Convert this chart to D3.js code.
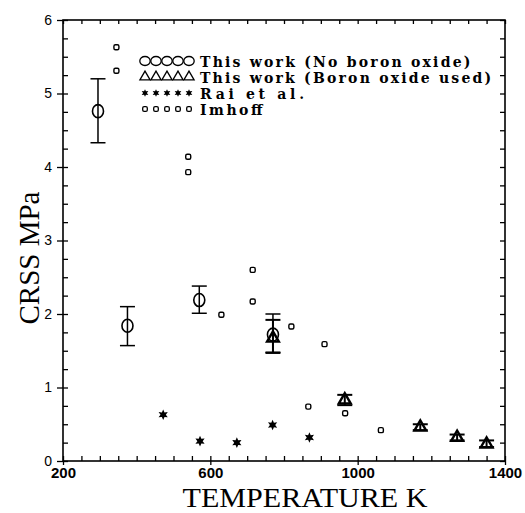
<!DOCTYPE html>
<html>
<head>
<meta charset="utf-8">
<script src="https://cdn.jsdelivr.net/npm/d3@7"></script>
<style>
  html, body { margin: 0; padding: 0; background: #fff; }
  svg { display: block; }
</style>
</head>
<body>
<svg id="chart" width="525" height="513"></svg>
<script>
// CRSS vs temperature: this work (two conditions), Rai et al., Imhoff

const noBoronT  = [295, 375, 570, 770];
const noBoronV  = [4.76, 1.84, 2.19, 1.72];
const noBoronLo = [4.33, 1.57, 2.01, 1.48];
const noBoronHi = [5.20, 2.10, 2.38, 2.00];

const boronT  = [770, 965, 1170, 1270, 1350];
const boronV  = [1.67, 0.83, 0.46, 0.32, 0.23];
const boronLo = [1.47, 0.76, 0.42, 0.28, 0.19];
const boronHi = [1.92, 0.90, 0.50, 0.36, 0.28];

const raiT = [472, 572, 672, 769, 869];
const raiV = [0.63, 0.27, 0.25, 0.49, 0.32];

const imhoffT = [345, 345, 540, 540, 630, 715, 715, 820, 910, 866, 966, 1063];
const imhoffV = [5.63, 5.31, 4.14, 3.93, 1.99, 2.60, 2.17, 1.83, 1.59, 0.74, 0.65, 0.42];

const xMajorTicks = [200, 600, 1000, 1400];
const yMajorTicks = [0, 1, 2, 3, 4, 5, 6];

const legendLabels = [
  "This work (No boron oxide)",
  "This work (Boron oxide used)",
  "Rai et al.",
  "Imhoff"
];

const svg = d3.select("#chart");
const x = d3.scaleLinear().domain([200, 1400]).range([63, 505]);
const y = d3.scaleLinear().domain([0, 6]).range([461, 20]);

// six-pointed filled star
const star6 = {
  draw(ctx, size) {
    const R = Math.sqrt(size) * 0.75, r = R * 0.5;
    for (let i = 0; i < 12; i++) {
      const a = -Math.PI / 2 + i * Math.PI / 6;
      const rr = i % 2 === 0 ? R : r;
      const px = rr * Math.cos(a), py = rr * Math.sin(a);
      if (i === 0) ctx.moveTo(px, py); else ctx.lineTo(px, py);
    }
    ctx.closePath();
  }
};

// frame
svg.append("rect")
  .attr("x", x(200)).attr("y", y(6))
  .attr("width", x(1400) - x(200)).attr("height", y(0) - y(6))
  .attr("fill", "none").attr("stroke", "#000").attr("stroke-width", 1.6);

function styleAxis(g) {
  g.select(".domain").remove();
  g.selectAll(".tick line").attr("stroke", "#000").attr("stroke-width", 1.3);
}

// minor ticks, pointing inward
svg.append("g").attr("transform", `translate(0,${y(0)})`)
  .call(d3.axisBottom(x).tickValues(d3.range(200, 1401, 50)).tickSize(-5).tickFormat(""))
  .call(styleAxis);
svg.append("g").attr("transform", `translate(0,${y(6)})`)
  .call(d3.axisTop(x).tickValues(d3.range(200, 1401, 50)).tickSize(-4).tickFormat(""))
  .call(styleAxis);
svg.append("g").attr("transform", `translate(${x(200)},0)`)
  .call(d3.axisLeft(y).tickValues(d3.range(0, 6.001, 0.25)).tickSize(-5).tickFormat(""))
  .call(styleAxis);
svg.append("g").attr("transform", `translate(${x(1400)},0)`)
  .call(d3.axisRight(y).tickValues(d3.range(0, 6.001, 0.25)).tickSize(-5).tickFormat(""))
  .call(styleAxis);

// major ticks with labels
const xAxis = svg.append("g").attr("transform", `translate(0,${y(0)})`)
  .call(d3.axisBottom(x).tickValues(xMajorTicks).tickSize(4).tickPadding(2).tickFormat(d3.format("d")))
  .call(styleAxis);
xAxis.selectAll("text")
  .style("font-family", "'Liberation Sans', Arial, sans-serif")
  .style("font-weight", "bold").style("font-size", "15px").attr("fill", "#000");

const yAxis = svg.append("g").attr("transform", `translate(${x(200)},0)`)
  .call(d3.axisLeft(y).tickValues(yMajorTicks).tickSize(6).tickPadding(5).tickFormat(d3.format("d")))
  .call(styleAxis);
yAxis.selectAll("text")
  .style("font-family", "'Liberation Sans', Arial, sans-serif")
  .style("font-size", "14px").attr("fill", "#000");

// axis titles
svg.append("text")
  .attr("x", 305).attr("y", 507)
  .attr("text-anchor", "middle")
  .attr("font-family", "Liberation Serif, Times New Roman, serif")
  .attr("font-size", 27)
  .attr("textLength", 245).attr("lengthAdjust", "spacingAndGlyphs")
  .text("TEMPERATURE  K");

svg.append("text")
  .attr("transform", "translate(39,258) rotate(-90)")
  .attr("text-anchor", "middle")
  .attr("font-family", "Liberation Serif, Times New Roman, serif")
  .attr("font-size", 29)
  .text("CRSS  MPa");

const plot = svg.append("g");

// error bars
function errorBars(T, lo, hi, cls, w) {
  const g = plot.append("g").attr("class", cls)
    .attr("stroke", "#000").attr("stroke-width", w).attr("fill", "none");
  T.forEach((t, i) => {
    g.append("line").attr("x1", x(t)).attr("x2", x(t)).attr("y1", y(lo[i])).attr("y2", y(hi[i]));
    g.append("line").attr("x1", x(t) - 7.5).attr("x2", x(t) + 7.5).attr("y1", y(lo[i])).attr("y2", y(lo[i]));
    g.append("line").attr("x1", x(t) - 7.5).attr("x2", x(t) + 7.5).attr("y1", y(hi[i])).attr("y2", y(hi[i]));
  });
}
errorBars(noBoronT, noBoronLo, noBoronHi, "err-noboron", 1.5);
errorBars(boronT, boronLo, boronHi, "err-boron", 2);

// this work, no boron oxide: open circles
plot.append("g").selectAll("ellipse").data(noBoronT).join("ellipse")
  .attr("cx", d => x(d)).attr("cy", (d, i) => y(noBoronV[i]))
  .attr("rx", 5.5).attr("ry", 6.5)
  .attr("fill", "none").attr("stroke", "#000").attr("stroke-width", 1.6);

// this work, boron oxide used: triangles
const tri = d3.symbol().type(d3.symbolTriangle).size(60);
plot.append("g").selectAll("path").data(boronT).join("path")
  .attr("transform", (d, i) => `translate(${x(d)},${y(boronV[i])})`)
  .attr("d", tri)
  .attr("fill", "none").attr("stroke", "#000").attr("stroke-width", 2.4);

// Rai et al.: stars
const starSym = d3.symbol().type(star6).size(50);
plot.append("g").selectAll("path").data(raiT).join("path")
  .attr("transform", (d, i) => `translate(${x(d)},${y(raiV[i])})`)
  .attr("d", starSym)
  .attr("fill", "#000");

// Imhoff: small open squares
plot.append("g").selectAll("rect").data(imhoffT).join("rect")
  .attr("x", d => x(d) - 2.5).attr("y", (d, i) => y(imhoffV[i]) - 2.5)
  .attr("width", 5).attr("height", 5).attr("rx", 1.5)
  .attr("fill", "none").attr("stroke", "#000").attr("stroke-width", 1.4);

// legend
const legend = svg.append("g");
const legendY = [61, 77, 93, 109];
const symX = d3.range(5).map(i => 145 + i * 11);
legendLabels.forEach((label, r) => {
  const row = legend.append("g").attr("transform", `translate(0,${legendY[r]})`);
  symX.forEach(sx => {
    if (r === 0) {
      row.append("ellipse").attr("cx", sx).attr("cy", 0).attr("rx", 5.2).attr("ry", 4.5)
        .attr("fill", "none").attr("stroke", "#000").attr("stroke-width", 1.3);
    } else if (r === 1) {
      row.append("path").attr("transform", `translate(${sx},0)`)
        .attr("d", d3.symbol().type(d3.symbolTriangle).size(45))
        .attr("fill", "none").attr("stroke", "#000").attr("stroke-width", 1.3);
    } else if (r === 2) {
      row.append("path").attr("transform", `translate(${sx},0)`)
        .attr("d", d3.symbol().type(star6).size(26)).attr("fill", "#000");
    } else {
      row.append("rect").attr("x", sx - 2.3).attr("y", -2.3).attr("width", 4.6).attr("height", 4.6)
        .attr("rx", 1.4).attr("fill", "none").attr("stroke", "#000").attr("stroke-width", 1.3);
    }
  });
  row.append("text")
    .attr("x", 200).attr("y", 5.5)
    .attr("font-family", "DejaVu Serif, serif")
    .attr("font-weight", "bold").attr("font-size", 14)
    .attr("textLength", label.length * 10.4).attr("lengthAdjust", "spacing")
    .text(label);
});
</script>
</body>
</html>
